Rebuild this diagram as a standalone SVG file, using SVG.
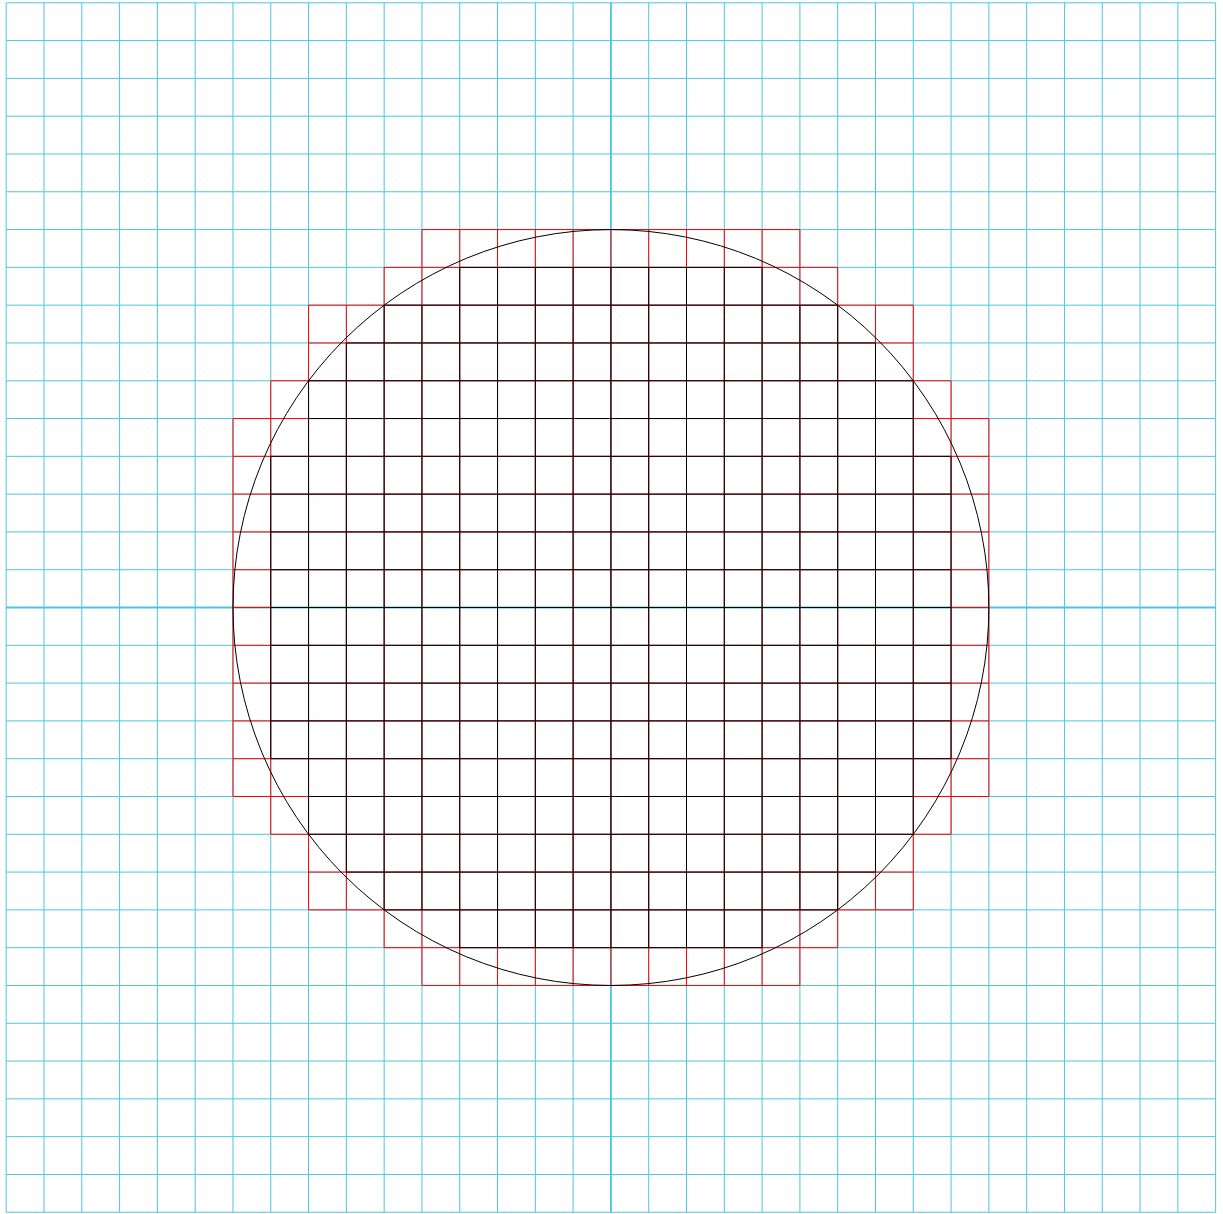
<svg xmlns="http://www.w3.org/2000/svg" width="1223" height="1214" viewBox="0 0 1223 1214">
<style>
.grid{fill:none;stroke:#4cc6df;stroke-width:1}
.axis{fill:none;stroke:#4cc6df;stroke-width:1.8}
.red{fill:none;stroke:#ff0000;stroke-width:1}
.blk{fill:none;stroke:#000000;stroke-width:1}
.circ{fill:none;stroke:#000000;stroke-width:1}
</style>
<rect width="1223" height="1214" fill="#ffffff"/>
<g transform="translate(610.92,607.52)">
<g id="grid">
<path class="grid" d="M-604.72 -604.72V604.72 M-566.925 -604.72V604.72 M-529.13 -604.72V604.72 M-491.335 -604.72V604.72 M-453.54 -604.72V604.72 M-415.745 -604.72V604.72 M-377.95 -604.72V604.72 M-340.155 -604.72V604.72 M-302.36 -604.72V604.72 M-264.565 -604.72V604.72 M-226.77 -604.72V604.72 M-188.975 -604.72V604.72 M-151.18 -604.72V604.72 M-113.385 -604.72V604.72 M-75.59 -604.72V604.72 M-37.795 -604.72V604.72 M37.795 -604.72V604.72 M75.59 -604.72V604.72 M113.385 -604.72V604.72 M151.18 -604.72V604.72 M188.975 -604.72V604.72 M226.77 -604.72V604.72 M264.565 -604.72V604.72 M302.36 -604.72V604.72 M340.155 -604.72V604.72 M377.95 -604.72V604.72 M415.745 -604.72V604.72 M453.54 -604.72V604.72 M491.335 -604.72V604.72 M529.13 -604.72V604.72 M566.925 -604.72V604.72 M604.72 -604.72V604.72"/>
<path class="grid" d="M-604.72 -604.72H604.72 M-604.72 -566.925H604.72 M-604.72 -529.13H604.72 M-604.72 -491.335H604.72 M-604.72 -453.54H604.72 M-604.72 -415.745H604.72 M-604.72 -377.95H604.72 M-604.72 -340.155H604.72 M-604.72 -302.36H604.72 M-604.72 -264.565H604.72 M-604.72 -226.77H604.72 M-604.72 -188.975H604.72 M-604.72 -151.18H604.72 M-604.72 -113.385H604.72 M-604.72 -75.59H604.72 M-604.72 -37.795H604.72 M-604.72 37.795H604.72 M-604.72 75.59H604.72 M-604.72 113.385H604.72 M-604.72 151.18H604.72 M-604.72 188.975H604.72 M-604.72 226.77H604.72 M-604.72 264.565H604.72 M-604.72 302.36H604.72 M-604.72 340.155H604.72 M-604.72 377.95H604.72 M-604.72 415.745H604.72 M-604.72 453.54H604.72 M-604.72 491.335H604.72 M-604.72 529.13H604.72 M-604.72 566.925H604.72 M-604.72 604.72H604.72"/>
<path class="axis" d="M0 -604.72V604.72 M-604.72 0H604.72"/>
</g>
<g id="red-cells">
<path class="red" d="M-188.975 -377.95H188.975 M-226.77 -340.155H226.77 M-302.36 -302.36H302.36 M-302.36 -264.565H302.36 M-340.155 -226.77H340.155 M-377.95 -188.975H377.95 M-377.95 -151.18H377.95 M-377.95 -113.385H377.95 M-377.95 -75.59H377.95 M-377.95 -37.795H377.95 M-377.95 0H377.95 M-377.95 37.795H377.95 M-377.95 75.59H377.95 M-377.95 113.385H377.95 M-377.95 151.18H377.95 M-377.95 188.975H377.95 M-340.155 226.77H340.155 M-302.36 264.565H302.36 M-302.36 302.36H302.36 M-226.77 340.155H226.77 M-188.975 377.95H188.975"/>
<path class="red" d="M-377.95 -188.975V188.975 M-340.155 -226.77V226.77 M-302.36 -302.36V302.36 M-264.565 -302.36V302.36 M-226.77 -340.155V340.155 M-188.975 -377.95V377.95 M-151.18 -377.95V377.95 M-113.385 -377.95V377.95 M-75.59 -377.95V377.95 M-37.795 -377.95V377.95 M0 -377.95V377.95 M37.795 -377.95V377.95 M75.59 -377.95V377.95 M113.385 -377.95V377.95 M151.18 -377.95V377.95 M188.975 -377.95V377.95 M226.77 -340.155V340.155 M264.565 -302.36V302.36 M302.36 -302.36V302.36 M340.155 -226.77V226.77 M377.95 -188.975V188.975"/>
</g>
<g id="inner-cells">
<path class="blk" d="M-151.18 -340.155H151.18 M-226.77 -302.36H226.77 M-264.565 -264.565H264.565 M-302.36 -226.77H302.36 M-302.36 -188.975H302.36 M-340.155 -151.18H340.155 M-340.155 -113.385H340.155 M-340.155 -75.59H340.155 M-340.155 -37.795H340.155 M-340.155 0H340.155 M-340.155 37.795H340.155 M-340.155 75.59H340.155 M-340.155 113.385H340.155 M-340.155 151.18H340.155 M-302.36 188.975H302.36 M-302.36 226.77H302.36 M-264.565 264.565H264.565 M-226.77 302.36H226.77 M-151.18 340.155H151.18"/>
<path class="blk" d="M-340.155 -151.18V151.18 M-302.36 -226.77V226.77 M-264.565 -264.565V264.565 M-226.77 -302.36V302.36 M-188.975 -302.36V302.36 M-151.18 -340.155V340.155 M-113.385 -340.155V340.155 M-75.59 -340.155V340.155 M-37.795 -340.155V340.155 M0 -340.155V340.155 M37.795 -340.155V340.155 M75.59 -340.155V340.155 M113.385 -340.155V340.155 M151.18 -340.155V340.155 M188.975 -302.36V302.36 M226.77 -302.36V302.36 M264.565 -264.565V264.565 M302.36 -226.77V226.77 M340.155 -151.18V151.18"/>
</g>
<g id="circle">
<circle class="circ" cx="0" cy="0" r="377.95"/>
</g>
</g>
</svg>
